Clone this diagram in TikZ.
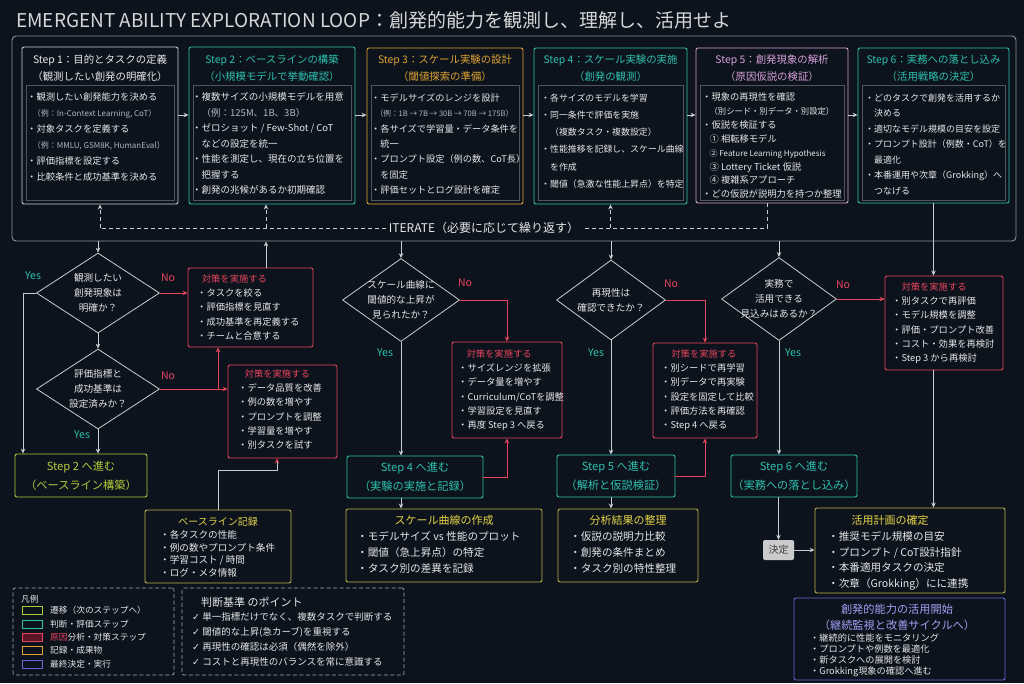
\documentclass[tikz,border=0pt]{standalone}
\usepackage{fontspec}
\setmainfont{Noto Sans CJK JP}
\newfontfamily\checkfont{DejaVu Sans}
\usetikzlibrary{arrows.meta,shapes.geometric,positioning}

\definecolor{bg}{HTML}{0C131C}
\definecolor{ink}{HTML}{E6E7E8}
\definecolor{dim}{HTML}{B4B8BD}
\definecolor{wire}{HTML}{C9CDD1}
\definecolor{rim}{HTML}{8C9297}
\definecolor{tealc}{HTML}{2FC0AE}
\definecolor{amber}{HTML}{E2A334}
\definecolor{orchid}{HTML}{D7A0D9}
\definecolor{alert}{HTML}{E9445D}
\definecolor{leaf}{HTML}{B3CB3B}
\definecolor{ochre}{HTML}{BDB04A}
\definecolor{goldc}{HTML}{E6D448}
\definecolor{iris}{HTML}{6767D6}
\definecolor{lilac}{HTML}{A0A2F4}
\definecolor{chip}{HTML}{CACBCC}
\definecolor{wine}{HTML}{5A1624}

\newcommand{\notesize}{\fontsize{8}{12}\selectfont}

\begin{document}
\begin{tikzpicture}[x=1pt,y=-1pt,
  stepbox/.style={draw=#1, line width=0.9pt, rounded corners=2pt, fill=bg, inner sep=0pt},
  innerbox/.style={draw=white!28!bg, line width=0.5pt, inner sep=0pt},
  ttl/.style={text=#1, align=center, inner sep=0pt, font=\fontsize{10.4}{17}\selectfont},
  body/.style={anchor=north west, inner sep=0pt, align=left, text=ink, font=\fontsize{9.3}{#1}\selectfont},
  ask/.style={diamond, draw=wire, line width=0.8pt, inner sep=0pt},
  asktxt/.style={align=center, text=ink, inner sep=0pt, font=\fontsize{9.6}{15}\selectfont},
  fixbox/.style={draw=alert, line width=0.9pt, rounded corners=2pt, fill=bg, inner sep=0pt},
  fixtxt/.style={anchor=north west, inner sep=0pt, align=left, text=ink, font=\fontsize{9.3}{14.2}\selectfont},
  gobox/.style={draw=#1, text=#1, line width=0.9pt, rounded corners=2pt, fill=bg, inner sep=0pt,
    align=center, font=\fontsize{11.2}{19}\selectfont},
  logbox/.style={draw=#1, line width=0.9pt, rounded corners=2pt, fill=bg, inner sep=0pt},
  logttl/.style={text=goldc, inner sep=0pt, font=\fontsize{11}{14}\selectfont},
  logtxt/.style={anchor=north west, inner sep=0pt, align=left, text=ink, font=\fontsize{10.6}{#1}\selectfont},
  flow/.style={draw=wire, line width=0.8pt, -{Stealth[length=5pt,width=4.5pt]}},
  redflow/.style={draw=alert, line width=0.8pt, -{Stealth[length=5pt,width=4.5pt]}},
  iterline/.style={draw=wire, line width=0.7pt, dash pattern=on 4pt off 3pt},
  yeslbl/.style={text=tealc, font=\fontsize{10.5}{12}\selectfont},
  nolbl/.style={text=alert, font=\fontsize{10.5}{12}\selectfont},
  notebox/.style={draw=wire!80!bg, line width=0.7pt, dash pattern=on 4pt off 2.5pt, rounded corners=2pt, inner sep=0pt},
  swatch/.style={draw=#1, line width=0.9pt, fill=bg, minimum width=20, minimum height=8, inner sep=0pt},
  legtxt/.style={anchor=west, text=ink, inner sep=0pt, font=\fontsize{8.7}{10}\selectfont}]

\path[use as bounding box, fill=bg] (0,0) rectangle (1024,683);

\node[anchor=west, text=ink!92!bg, inner sep=0pt, font=\fontsize{19}{22}\selectfont] (title) at (16,20)
  {EMERGENT ABILITY EXPLORATION LOOP：創発的能力を観測し、理解し、活用せよ};

\node[stepbox=rim, rounded corners=4pt, minimum width=1004, minimum height=205] (loop) at (514,138.5) {};

\node[stepbox=wire, minimum width=156, minimum height=157] (s1) at (100,125.5) {};
\node[stepbox=tealc, minimum width=166, minimum height=157] (s2) at (272,125.5) {};
\node[stepbox=amber, minimum width=156, minimum height=156] (s3) at (445,126) {};
\node[stepbox=tealc, minimum width=153, minimum height=156] (s4) at (610.5,126) {};
\node[stepbox=orchid, minimum width=152, minimum height=155] (s5) at (772,125.5) {};
\node[stepbox=tealc, minimum width=151, minimum height=155] (s6) at (933.5,125.5) {};

\node[innerbox, minimum width=148, minimum height=115] (s1i) at (100,142.5) {};
\node[innerbox, minimum width=158, minimum height=115] (s2i) at (272,142.5) {};
\node[innerbox, minimum width=148, minimum height=115] (s3i) at (445,142.5) {};
\node[innerbox, minimum width=145, minimum height=115] (s4i) at (610.5,142.5) {};
\node[innerbox, minimum width=144, minimum height=115] (s5i) at (772,142.5) {};
\node[innerbox, minimum width=143, minimum height=115] (s6i) at (933.5,142.5) {};

\node[ttl=ink] (s1t) at (100,68.5) {Step 1：目的とタスクの定義\\（観測したい創発の明確化）};
\node[ttl=tealc] (s2t) at (272,68.5) {Step 2：ベースラインの構築\\（小規模モデルで挙動確認）};
\node[ttl=amber] (s3t) at (445,68.5) {Step 3：スケール実験の設計\\（閾値探索の準備）};
\node[ttl=tealc] (s4t) at (610.5,68.5) {Step 4：スケール実験の実施\\（創発の観測）};
\node[ttl=orchid] (s5t) at (772,68.5) {Step 5：創発現象の解析\\（原因仮説の検証）};
\node[ttl=tealc] (s6t) at (933.5,68.5) {Step 6：実務への落とし込み\\（活用戦略の決定）};

\node[body=16] (s1b) at (27,92.5) {・観測したい創発能力を決める\\
  \hspace{0.6em}{\notesize\color{dim}（例：In-Context Learning, CoT）}\\
  ・対象タスクを定義する\\
  \hspace{0.6em}{\notesize\color{dim}（例：MMLU, GSM8K, HumanEval）}\\
  ・評価指標を設定する\\
  ・比較条件と成功基準を決める};
\node[body=15.5, font=\fontsize{9.5}{15.5}\selectfont] (s2b) at (192,92.5) {・複数サイズの小規模モデルを用意\\
  \hspace{1em}{\color{dim}（例：125M、1B、3B）}\\
  ・ゼロショット / Few-Shot / CoT\\
  \hspace{1em}などの設定を統一\\
  ・性能を測定し、現在の立ち位置を\\
  \hspace{1em}把握する\\
  ・創発の兆候があるか初期確認};
\node[body=15.3, font=\fontsize{9.2}{15.3}\selectfont] (s3b) at (371,93.5) {・モデルサイズのレンジを設計\\
  \hspace{0.5em}{\fontsize{7.6}{12}\selectfont\color{dim}（例：1B → 7B → 30B → 70B → 175B）}\\
  ・各サイズで学習量・データ条件を\\
  \hspace{1em}統一\\
  ・プロンプト設定（例の数、CoT長）\\
  \hspace{1em}を固定\\
  ・評価セットとログ設計を確定};
\node[body=17.2, font=\fontsize{8.9}{17.2}\selectfont] (s4b) at (541,93.5) {・各サイズのモデルを学習\\
  ・同一条件で評価を実施\\
  \hspace{1em}（複数タスク・複数設定）\\
  ・性能推移を記録し、スケール曲線\\
  \hspace{1em}を作成\\
  ・閾値（急激な性能上昇点）を特定};
\node[body=13.9] (s5b) at (702,92.5) {・現象の再現性を確認\\
  \hspace{0.8em}{\fontsize{8.3}{12}\selectfont（別シード・別データ・別設定）}\\
  ・仮説を検証する\\
  \hspace{0.8em}① 相転移モデル\\
  \hspace{0.8em}{\notesize ② Feature Learning Hypothesis}\\
  \hspace{0.8em}③ Lottery Ticket 仮説\\
  \hspace{0.8em}④ 複雑系アプローチ\\
  ・どの仮説が説明力を持つか整理};
\node[body=15.5, font=\fontsize{9}{15.5}\selectfont] (s6b) at (865,93.5) {・どのタスクで創発を活用するか\\
  \hspace{1em}決める\\
  ・適切なモデル規模の目安を設定\\
  ・プロンプト設計（例数・CoT）を\\
  \hspace{1em}最適化\\
  ・本番運用や次章（Grokking）へ\\
  \hspace{1em}つなげる};

\coordinate (row) at (0,115);
\draw[flow] (s1.east |- row) -- (s2.west |- row);
\draw[flow] (s2.east |- row) -- (s3.west |- row);
\draw[flow] (s3.east |- row) -- (s4.west |- row);
\draw[flow] (s4.east |- row) -- (s5.west |- row);
\draw[flow] (s5.east |- row) -- (s6.west |- row);

\coordinate (itR) at (767,228);
\coordinate (itB) at (266,228);
\draw[iterline] (s5.south -| itR) -- (itR) -- (s1.south |- itR);
\draw[iterline,-{Stealth[length=5pt,width=4.5pt]}] (s1.south |- itR) -- (s1.south);
\draw[iterline,-{Stealth[length=5pt,width=4.5pt]}] (itB) -- (itB |- s2.south);
\draw[iterline,-{Stealth[length=5pt,width=4.5pt]}] (s4.south |- itR) -- (s4.south);
\node[fill=bg, text=ink, inner sep=3pt, font=\fontsize{12}{14}\selectfont] (iter) at (484,228) {ITERATE（必要に応じて繰り返す）};

\node[ask, minimum width=123, minimum height=80] (d1) at (98,293) {};
\node[ask, minimum width=123, minimum height=80] (d2) at (98,389) {};
\node[ask, minimum width=117, minimum height=83] (d3) at (401,300) {};
\node[ask, minimum width=109, minimum height=80] (d4) at (611,300) {};
\node[ask, minimum width=115, minimum height=83] (d5) at (779,299) {};
\node[asktxt] (d1t) at (d1) {観測したい\\創発現象は\\明確か？};
\node[asktxt] (d2t) at (d2) {評価指標と\\成功基準は\\設定済みか？};
\node[asktxt] (d3t) at (d3) {スケール曲線に\\閾値的な上昇が\\見られたか？};
\node[asktxt] (d4t) at (d4) {再現性は\\確認できたか？};
\node[asktxt] (d5t) at (d5) {実務で\\活用できる\\見込みはあるか？};

\node[fixbox, minimum width=125, minimum height=79] (rb1) at (250.5,307.5) {};
\node[fixbox, minimum width=109, minimum height=93] (rb2) at (282.5,411.5) {};
\node[fixbox, minimum width=110, minimum height=96] (rb3) at (507,390) {};
\node[fixbox, minimum width=104, minimum height=95] (rb4) at (705,390.5) {};
\node[fixbox, minimum width=118, minimum height=94] (rb5) at (944,323) {};
\node[fixtxt] (rb1b) at (197,274.5) {\hspace{0.5em}\textcolor{alert}{対策を実施する}\\・タスクを絞る\\・評価指標を見直す\\・成功基準を再定義する\\・チームと合意する};
\node[fixtxt] (rb2b) at (238,369.5) {\hspace{0.7em}\textcolor{alert}{対策を実施する}\\・データ品質を改善\\・例の数を増やす\\・プロンプトを調整\\・学習量を増やす\\・別タスクを試す};
\node[fixtxt] (rb3b) at (458,349.5) {\hspace{0.9em}\textcolor{alert}{対策を実施する}\\・サイズレンジを拡張\\・データ量を増やす\\・Curriculum/CoTを調整\\・学習設定を見直す\\・再度 Step 3 へ戻る};
\node[fixtxt] (rb4b) at (661,349.5) {\hspace{1.1em}\textcolor{alert}{対策を実施する}\\・別シードで再学習\\・別データで再実験\\・設定を固定して比較\\・評価方法を再確認\\・Step 4 へ戻る};
\node[fixtxt] (rb5b) at (892,282.5) {\hspace{1em}\textcolor{alert}{対策を実施する}\\・別タスクで再評価\\・モデル規模を調整\\・評価・プロンプト改善\\・コスト・効果を再検討\\・Step 3 から再検討};

\node[gobox=leaf, minimum width=132, minimum height=43] (p2) at (81,475.5) {Step 2 へ進む\\（ベースライン構築）};
\node[gobox=tealc, minimum width=136, minimum height=42] (p4) at (415,477) {Step 4 へ進む\\（実験の実施と記録）};
\node[gobox=tealc, minimum width=118, minimum height=42] (p5) at (616,476) {Step 5 へ進む\\（解析と仮説検証）};
\node[gobox=tealc, minimum width=126, minimum height=42] (p6) at (794,476) {Step 6 へ進む\\（実務への落とし込み）};

\node[logbox=ochre, minimum width=146, minimum height=73] (base) at (218,546.5) {};
\node[logttl, font=\fontsize{10}{12}\selectfont] (baset) at (218,522) {ベースライン記録};
\node[logtxt=12.5, font=\fontsize{9.6}{12.5}\selectfont] (baseb) at (160,530.5) {・各タスクの性能\\・例の数やプロンプト条件\\・学習コスト / 時間\\・ログ・メタ情報};
\node[logbox=ochre, minimum width=196, minimum height=73] (scale) at (444,545.5) {};
\node[logttl] (scalet) at (444,520) {スケール曲線の作成};
\node[logtxt=16] (scaleb) at (357,531.5) {・モデルサイズ vs 性能のプロット\\・閾値（急上昇点）の特定\\・タスク別の差異を記録};
\node[logbox=ochre, minimum width=140, minimum height=73] (anal) at (628,545.5) {};
\node[logttl] (analt) at (628,520) {分析結果の整理};
\node[logtxt=16] (analb) at (570,531.5) {・仮説の説明力比較\\・創発の条件まとめ\\・タスク別の特性整理};
\node[logbox=ochre, minimum width=190, minimum height=85] (plan) at (910,550.5) {};
\node[logttl] (plant) at (890,520) {活用計画の確定};
\node[logtxt=15.5] (planb) at (828,531.5) {・推奨モデル規模の目安\\・プロンプト / CoT設計指針\\・本番適用タスクの決定\\・次章（Grokking）にに連携};
\node[logbox=iris, minimum width=211, minimum height=82] (final) at (899.5,639) {};
\node[align=center, text=lilac, inner sep=0pt, font=\fontsize{11.2}{16}\selectfont] (finalt) at (897,617.5) {創発的能力の活用開始\\（継続監視と改善サイクルへ）};
\node[anchor=north west, align=left, text=ink, inner sep=0pt, font=\fontsize{9.2}{10.9}\selectfont] (finalb) at (810,633.5)
  {・継続的に性能をモニタリング\\・プロンプトや例数を最適化\\・新タスクへの展開を検討\\・Grokking現象の確認へ進む};

\node[fill=chip, text=black!75, rounded corners=2pt, inner sep=0pt, minimum width=31, minimum height=20,
  font=\fontsize{10}{12}\selectfont] (dec) at (778.5,550) {決定};

\draw[flow] (loop.south -| d1.north) -- (d1.north);
\draw[flow] (d1.south) -- (d2.north);
\draw[flow] (d2.south) -- (d2.south |- p2.north);
\coordinate (yA) at (23,293);
\draw[flow] (d1.west) -- (yA) -- (yA |- p2.north);
\draw[redflow] (d1.east) -- (d1.east -| rb1.west);
\draw[redflow] (d2.east) -- (d2.east -| rb2.west);
\coordinate (brA) at (218,389);
\draw[redflow] (brA) -- (brA |- rb1.south);
\coordinate (bsA) at (277,470);
\draw[flow, -{Stealth[length=5pt,width=4.5pt,color=alert]}] (base.north) |- (bsA) -- (bsA |- rb2.south);
\draw[flow] (rb1.north -| itB) -- (itB |- loop.south);

\draw[flow] (loop.south -| d3.north) -- (d3.north);
\draw[redflow] (d3.east) -| (rb3.north);
\draw[flow] (d3.south) -- (d3.south |- p4.north);
\draw[redflow] (p4.east) -| (rb3.south);
\draw[flow] (d3.south |- p4.south) -- (d3.south |- scale.north);

\draw[flow] (loop.south -| d4.north) -- (d4.north);
\draw[redflow] (d4.east) -| (rb4.north);
\draw[flow] (d4.south) -- (d4.south |- p5.north);
\draw[redflow] (p5.east) -| (rb4.south);
\draw[flow] (d4.south |- p5.south) -- (d4.south |- anal.north);

\draw[flow] (loop.south -| d5.north) -- (d5.north);
\draw[redflow] (d5.east) -- (d5.east -| rb5.west);
\draw[flow] (d5.south) -- (d5.south |- p6.north);
\draw[flow] (dec.north |- p6.south) -- (dec.north);
\draw[flow] (dec.east) -- (dec.east -| plan.west);
\draw[flow] (s6.south) -- (s6.south |- rb5.north);
\draw[flow] (rb5.south -| s6.south) -- (s6.south |- plan.north);

\node[yeslbl] (y1) at (33,276) {Yes};
\node[nolbl] (n1) at (168,278) {No};
\node[nolbl] (n2) at (168,376) {No};
\node[yeslbl] (y2) at (82,435) {Yes};
\node[nolbl] (n3) at (465,283) {No};
\node[yeslbl] (y3) at (385,353) {Yes};
\node[nolbl] (n4) at (671,284) {No};
\node[yeslbl] (y4) at (596,353) {Yes};
\node[nolbl] (n5) at (843,285) {No};
\node[yeslbl] (y5) at (793,353) {Yes};

\node[notebox, minimum width=161, minimum height=87] (legend) at (93.5,631.5) {};
\node[legtxt] (legt) at (21,599) {凡例};
\node[swatch=leaf] (lg1) at (32,610) {};
\node[swatch=tealc] (lg2) at (32,624) {};
\node[swatch=alert, fill=wine] (lg3) at (32,637) {};
\node[swatch=amber] (lg4) at (32,650) {};
\node[swatch=iris] (lg5) at (32,664) {};
\node[legtxt] (lg1t) at (50,610) {遷移（次のステップへ）};
\node[legtxt] (lg2t) at (50,624) {判断・評価ステップ};
\node[legtxt] (lg3t) at (50,637) {\textcolor{alert}{原因}分析・対策ステップ};
\node[legtxt] (lg4t) at (50,650) {記録・成果物};
\node[legtxt] (lg5t) at (50,664) {最終決定・実行};

\node[notebox, minimum width=222, minimum height=87] (rules) at (293,631.5) {};
\node[anchor=west, text=ink, inner sep=0pt, font=\fontsize{11}{13}\selectfont] (rulest) at (201,602) {判断基準 のポイント};
\node[anchor=north west, align=left, text=ink, inner sep=0pt, font=\fontsize{9.5}{14.8}\selectfont] (rulesb) at (192,612.5)
  {{\checkfont ✓} 単一指標だけでなく、複数タスクで判断する\\
   {\checkfont ✓} 閾値的な上昇(急カーブ)を重視する\\
   {\checkfont ✓} 再現性の確認は必須（偶然を除外）\\
   {\checkfont ✓} コストと再現性のバランスを常に意識する};
\end{tikzpicture}
\end{document}
